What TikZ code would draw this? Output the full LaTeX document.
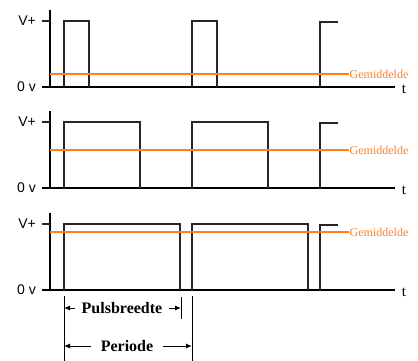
\documentclass[tikz,border=0pt]{standalone}
\usepackage{fontspec}
\setmainfont{Liberation Serif}
\newfontfamily\arialfont{Liberation Sans}
\usetikzlibrary{arrows.meta}

\definecolor{gemoranje}{RGB}{255,128,32}

\tikzset{
	axis line/.style = {
		line width = 2pt,
		black
	},
	pulse line/.style = {
		line width = 1.3pt,
		black!85
	},
	mean line/.style = {
		line width = 1.2pt,
		gemoranje
	},
	level label/.style = {
		anchor = east,
		inner sep = 0pt,
		font = \arialfont\fontsize{14}{14}\selectfont
	},
	time label/.style = {
		inner sep = 0pt,
		font = \fontsize{15}{15}\selectfont
	},
	mean label/.style = {
		anchor = west,
		inner sep = 0.5pt,
		text = gemoranje,
		font = \fontsize{12}{12}\selectfont
	},
	dim label/.style = {
		inner sep = 7pt,
		font = \bfseries\fontsize{16}{16}\selectfont
	},
	dim arrow/.style = {
		line width = 1pt,
		-{Latex[length=6pt,width=5pt]}
	},
	ext line/.style = {
		line width = 1pt
	}
}

\begin{document}
\begin{tikzpicture}[x=1pt, y=-1pt]
	\useasboundingbox (0,0) rectangle (418,361);

	% drie signalen: nullijn, pulsbreedte, gemiddelde
	\foreach \base/\w/\m in {87/25/13, 188/76/38, 290/116/58} {
		\draw[axis line] (50,\base-77) -- (50,\base);
		\draw[axis line] (42,\base) -- (395,\base);
		\draw[pulse line] (42,\base-66) -- (50,\base-66);
		\draw[pulse line] (64,\base) |- (64+\w,\base-66) -- (64+\w,\base);
		\draw[pulse line] (192,\base) |- (192+\w,\base-66) -- (192+\w,\base);
		\draw[pulse line] (320,\base) |- (338,\base-65);
		\node[level label] (vplus\base) at (36,\base-66) {V+};
		\node[level label] (nul\base) at (36,\base) {0 v};
		\node[time label] (t\base) at (404,\base+2.5) {t};
		\node[mean label] (gem\base) at (349,\base-\m) {Gemiddelde};
		\draw[mean line] (50,\base-\m) -- (gem\base.west);
	}

	% maatlijnen
	\coordinate (pb left) at (64,308);
	\coordinate (pb right) at (181,308);
	\coordinate (per left) at (64,346);
	\coordinate (per right) at (192,346);
	\draw[ext line] (64,296) -- (64,361);
	\draw[ext line] (181,297) -- (181,319);
	\draw[ext line] (192,296) -- (192,361);

	\node[dim label] (pulsbreedte) at (122,308) {Pulsbreedte};
	\node[dim label, inner sep=10pt] (periode) at (127,346) {Periode};
	\draw[dim arrow] (pulsbreedte) -- (pb left);
	\draw[dim arrow] (pulsbreedte) -- (pb right);
	\draw[dim arrow] (periode) -- (per left);
	\draw[dim arrow] (periode) -- (per right);
\end{tikzpicture}
\end{document}
